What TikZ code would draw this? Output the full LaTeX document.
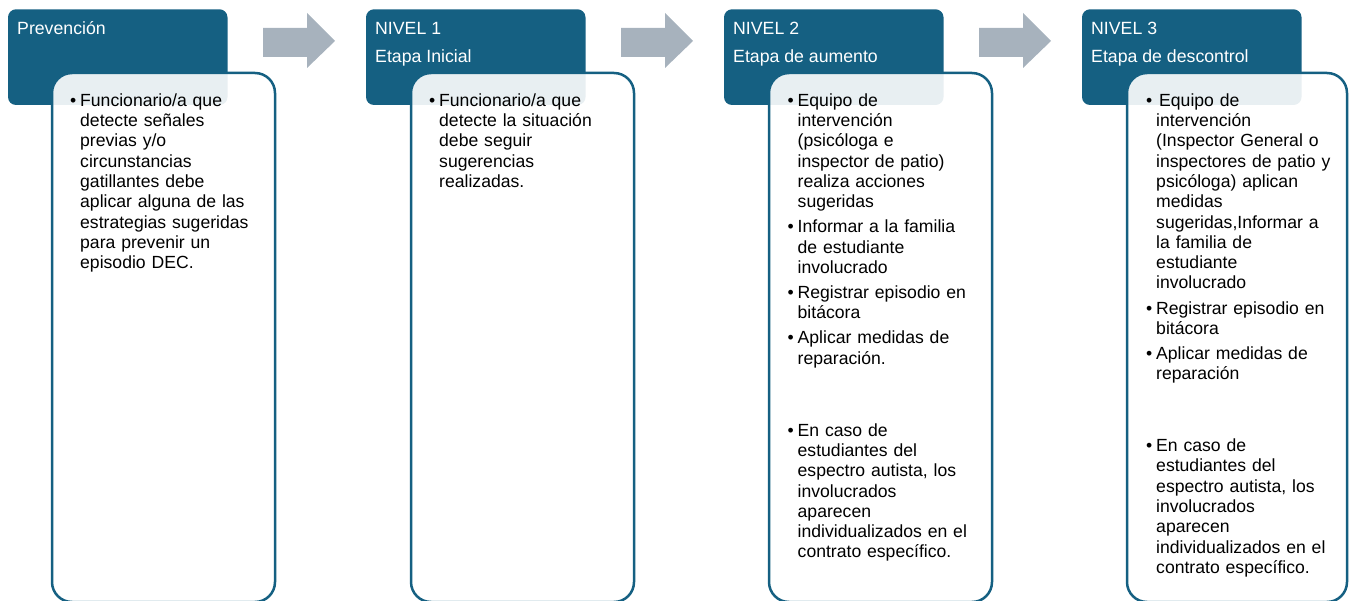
\documentclass[tikz,border=0pt]{standalone}
\usepackage{fontspec}
\setmainfont{Liberation Sans}
\definecolor{hdr}{HTML}{156082}
\definecolor{arr}{HTML}{A7B2BD}
\newcommand{\nl}{\hfil\break}
\newcommand{\bmark}{\strut\llap{\makebox[10pt][l]{\textbullet}}}
\newcommand{\bfirst}{\leftskip=10pt\parindent=0pt\parskip=0pt\rightskip=0pt plus 1fil\noindent\bmark}
\newcommand{\bnext}{\par\vspace{4.8pt}\noindent\bmark}
\newcommand{\bbig}{\par\vspace{51.6pt}\noindent\bmark}
\tikzset{
  hdrbox/.style={fill=hdr, rounded corners=8pt},
  txtbox/.style={fill=white, fill opacity=0.9, draw=hdr, draw opacity=1, line width=2.5pt, rounded corners=20pt},
  hdrtext/.style={text=white, anchor=base west, inner sep=0pt, font=\fontsize{17.7}{20.3}\selectfont},
  bodytext/.style={anchor=north west, inner sep=0pt, text width=240pt, font=\fontsize{17.6}{20.3}\selectfont},
  blockarrow/.style={fill=arr},
}
\begin{document}
\begin{tikzpicture}[x=1pt,y=-1pt]
\useasboundingbox (0,0) rectangle (1349,601);
% block arrows
\foreach \dx in {0,358,716}{
  \fill[blockarrow] (263+\dx,28) -- (307+\dx,28) -- (307+\dx,13) -- (335+\dx,41) -- (307+\dx,68) -- (307+\dx,57) -- (263+\dx,57) -- cycle;
}
% headers
\path[hdrbox] (8,9.3) rectangle (227.5,105);
\path[hdrbox] (366,9.3) rectangle (585.5,105);
\path[hdrbox] (724,9.3) rectangle (943.5,105);
\path[hdrbox] (1082,9.3) rectangle (1301.5,105);
% text boxes
\path[txtbox] (52,73) rectangle (275,602);
\path[txtbox] (411,73) rectangle (634,602);
\path[txtbox] (769,73) rectangle (992,602);
\path[txtbox] (1127,73) rectangle (1347,602);
% header texts
\node[hdrtext] (h0) at (17,34.3) {Prevención};
\node[hdrtext] (h1a) at (375,34.3) {NIVEL 1};
\node[hdrtext] (h1b) at (375,62.3) {Etapa Inicial};
\node[hdrtext] (h2a) at (733,34.3) {NIVEL 2};
\node[hdrtext] (h2b) at (733,62.3) {Etapa de aumento};
\node[hdrtext] (h3a) at (1091,34.3) {NIVEL 3};
\node[hdrtext] (h3b) at (1091,62.3) {Etapa de descontrol};
% body texts
\node[bodytext] (b0) at (70,91.8) {\bfirst Funcionario/a que\nl detecte señales\nl previas y/o\nl circunstancias\nl gatillantes debe\nl aplicar alguna de las\nl estrategias sugeridas\nl para prevenir un\nl episodio DEC.\par};
\node[bodytext] (b1) at (429,91.8) {\bfirst Funcionario/a que\nl detecte la situación\nl debe seguir\nl sugerencias\nl realizadas.\par};
\node[bodytext] (b2) at (787.5,91.8) {\bfirst Equipo de\nl intervención\nl (psicóloga e\nl inspector de patio)\nl realiza acciones\nl sugeridas
\bnext Informar a la familia\nl de estudiante\nl involucrado
\bnext Registrar episodio en\nl bitácora
\bnext Aplicar medidas de\nl reparación.
\bbig En caso de\nl estudiantes del\nl espectro autista, los\nl involucrados\nl aparecen\nl individualizados en el\nl contrato específico.\par};
\node[bodytext] (b3) at (1146,91.8) {\bfirst\hspace{3pt}Equipo de\nl intervención\nl (Inspector General o\nl inspectores de patio y\nl psicóloga) aplican\nl medidas\nl sugeridas,Informar a\nl la familia de\nl estudiante\nl involucrado
\bnext Registrar episodio en\nl bitácora
\bnext Aplicar medidas de\nl reparación
\bbig En caso de\nl estudiantes del\nl espectro autista, los\nl involucrados\nl aparecen\nl individualizados en el\nl contrato específico.\par};
\end{tikzpicture}
\end{document}
